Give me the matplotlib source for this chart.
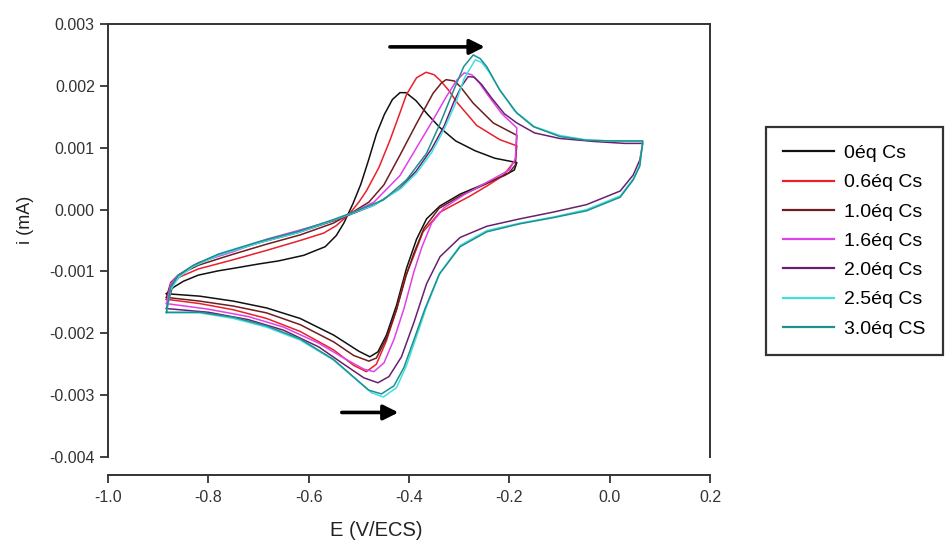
import matplotlib
matplotlib.use("Agg")
import matplotlib.pyplot as plt

plt.rcParams['font.family'] = ['Liberation Sans', 'DejaVu Sans']

SCALE = 1e-3  # values below are given in units of 1e-3 mA

labels = ["0éq Cs", "0.6éq Cs", "1.0éq Cs", "1.6éq Cs", "2.0éq Cs", "2.5éq Cs", "3.0éq CS"]
colors = ["#111111", "#e8202a", "#6e1e1e", "#e040e8", "#6a2070", "#3fe0e0", "#1f8f8f"]

# 0 eq Cs
E_0 = [-0.8835, -0.87, -0.85, -0.82, -0.78, -0.75, -0.70, -0.66, -0.61, -0.567, -0.545, -0.53, -0.512, -0.496,
       -0.481, -0.465, -0.449, -0.433, -0.418, -0.406, -0.386, -0.363, -0.339, -0.307, -0.268, -0.229, -0.185,
       -0.19, -0.21, -0.245, -0.298, -0.338, -0.365, -0.385, -0.405, -0.425, -0.445, -0.462, -0.478, -0.50,
       -0.55, -0.617, -0.684, -0.75, -0.817, -0.8835]
I_0 = [-1.36, -1.26, -1.16, -1.06, -0.99, -0.95, -0.88, -0.83, -0.74, -0.60, -0.42, -0.22, 0.09, 0.41,
       0.79, 1.22, 1.54, 1.78, 1.89, 1.89, 1.76, 1.54, 1.33, 1.11, 0.95, 0.83, 0.76,
       0.64, 0.55, 0.43, 0.25, 0.06, -0.15, -0.48, -0.95, -1.55, -2.03, -2.30, -2.38, -2.29,
       -2.03, -1.76, -1.59, -1.48, -1.40, -1.36]

# 0.6 eq Cs
E_06 = [-0.8835, -0.875, -0.86, -0.82, -0.75, -0.684, -0.617, -0.57, -0.545, -0.52, -0.50, -0.485, -0.46,
        -0.438, -0.42, -0.405, -0.385, -0.366, -0.35, -0.338, -0.32, -0.305, -0.265, -0.219, -0.185,
        -0.188, -0.212, -0.245, -0.278, -0.338, -0.372, -0.392, -0.408, -0.425, -0.445, -0.465, -0.485,
        -0.51, -0.55, -0.617, -0.684, -0.75, -0.817, -0.8835]
I_06 = [-1.45, -1.22, -1.10, -0.96, -0.81, -0.66, -0.50, -0.38, -0.26, -0.08, 0.12, 0.30, 0.68,
        1.12, 1.52, 1.86, 2.13, 2.22, 2.18, 2.09, 1.92, 1.74, 1.36, 1.13, 1.03,
        0.80, 0.55, 0.38, 0.22, -0.04, -0.36, -0.78, -1.10, -1.62, -2.12, -2.50, -2.62,
        -2.52, -2.27, -1.97, -1.76, -1.62, -1.52, -1.45]

# 1.0 eq Cs
E_10 = [-0.8835, -0.875, -0.86, -0.82, -0.75, -0.684, -0.617, -0.551, -0.52, -0.48, -0.45, -0.418, -0.385,
        -0.352, -0.335, -0.326, -0.31, -0.298, -0.272, -0.232, -0.185,
        -0.188, -0.20, -0.245, -0.298, -0.34, -0.37, -0.39, -0.405, -0.425, -0.445, -0.465, -0.48,
        -0.51, -0.55, -0.617, -0.684, -0.75, -0.817, -0.8835]
I_10 = [-1.42, -1.18, -1.06, -0.90, -0.72, -0.56, -0.41, -0.22, -0.08, 0.12, 0.40, 0.88, 1.39,
        1.88, 2.05, 2.10, 2.08, 1.99, 1.72, 1.40, 1.20,
        0.72, 0.60, 0.42, 0.22, 0.02, -0.30, -0.70, -1.05, -1.62, -2.08, -2.40, -2.45,
        -2.36, -2.14, -1.86, -1.67, -1.56, -1.48, -1.42]

# 1.6 eq Cs
E_16 = [-0.8835, -0.875, -0.86, -0.82, -0.75, -0.684, -0.617, -0.551, -0.52, -0.47, -0.418, -0.385, -0.352,
        -0.326, -0.305, -0.29, -0.275, -0.26, -0.24, -0.215, -0.185,
        -0.188, -0.20, -0.245, -0.29, -0.33, -0.355, -0.375, -0.39, -0.41, -0.43, -0.45, -0.47,
        -0.49, -0.53, -0.58, -0.65, -0.72, -0.80, -0.8835]
I_16 = [-1.52, -1.20, -1.06, -0.86, -0.68, -0.48, -0.33, -0.18, -0.08, 0.12, 0.55, 1.00, 1.45,
        1.82, 2.09, 2.21, 2.18, 2.05, 1.82, 1.55, 1.32,
        0.82, 0.64, 0.44, 0.24, 0.03, -0.22, -0.62, -1.00, -1.60, -2.10, -2.48, -2.62,
        -2.58, -2.40, -2.16, -1.90, -1.73, -1.61, -1.52]

# 2.0 eq Cs
E_20 = [-0.8835, -0.87, -0.85, -0.82, -0.78, -0.70, -0.62, -0.55, -0.52, -0.47, -0.42, -0.386, -0.355,
        -0.33, -0.31, -0.295, -0.282, -0.27, -0.255, -0.235, -0.21, -0.185, -0.15, -0.10, -0.03, 0.03, 0.066,
        0.06, 0.047, 0.021, -0.046, -0.112, -0.179, -0.245, -0.298, -0.338, -0.365, -0.39, -0.415, -0.44,
        -0.462, -0.49, -0.53, -0.58, -0.65, -0.72, -0.80, -0.8835]
I_20 = [-1.60, -1.20, -1.02, -0.87, -0.73, -0.54, -0.37, -0.18, -0.09, 0.07, 0.33, 0.62, 0.98,
        1.35, 1.75, 2.00, 2.15, 2.14, 2.02, 1.80, 1.55, 1.40, 1.24, 1.15, 1.10, 1.07, 1.07,
        0.80, 0.56, 0.30, 0.08, -0.04, -0.15, -0.27, -0.45, -0.76, -1.20, -1.82, -2.38, -2.70,
        -2.80, -2.72, -2.50, -2.22, -1.95, -1.78, -1.66, -1.60]

# 2.5 eq Cs
E_25 = [-0.8835, -0.875, -0.86, -0.83, -0.78, -0.70, -0.62, -0.55, -0.52, -0.47, -0.418, -0.386, -0.355,
        -0.33, -0.307, -0.29, -0.268, -0.255, -0.24, -0.22, -0.19, -0.15, -0.10, -0.05, 0.0, 0.066,
        0.06, 0.047, 0.021, -0.046, -0.112, -0.179, -0.245, -0.298, -0.338, -0.365, -0.385, -0.405, -0.425,
        -0.451, -0.475, -0.498, -0.551, -0.617, -0.684, -0.75, -0.817, -0.8835]
I_25 = [-1.67, -1.30, -1.10, -0.92, -0.74, -0.54, -0.37, -0.17, -0.08, 0.07, 0.33, 0.58, 0.92,
        1.30, 1.72, 2.12, 2.42, 2.38, 2.22, 1.95, 1.60, 1.34, 1.20, 1.13, 1.11, 1.10,
        0.72, 0.50, 0.22, 0.00, -0.12, -0.22, -0.34, -0.58, -1.02, -1.57, -2.05, -2.52, -2.88,
        -3.03, -2.96, -2.80, -2.43, -2.11, -1.90, -1.76, -1.67, -1.67]

# 3.0 eq Cs
E_30 = [-0.8835, -0.875, -0.86, -0.83, -0.78, -0.70, -0.62, -0.55, -0.52, -0.451, -0.405, -0.365, -0.338,
        -0.311, -0.291, -0.272, -0.258, -0.245, -0.219, -0.185, -0.152, -0.099, -0.046, 0.0, 0.066,
        0.06, 0.047, 0.021, -0.046, -0.112, -0.179, -0.245, -0.298, -0.34, -0.368, -0.39, -0.41, -0.43,
        -0.455, -0.48, -0.50, -0.551, -0.617, -0.684, -0.75, -0.817, -0.8835]
I_30 = [-1.66, -1.25, -1.06, -0.90, -0.72, -0.52, -0.35, -0.16, -0.07, 0.155, 0.48, 0.91, 1.39,
        1.93, 2.31, 2.50, 2.44, 2.31, 1.93, 1.56, 1.34, 1.18, 1.12, 1.11, 1.11,
        0.70, 0.48, 0.20, -0.02, -0.13, -0.23, -0.36, -0.60, -1.05, -1.60, -2.10, -2.55, -2.85,
        -2.98, -2.92, -2.78, -2.42, -2.09, -1.88, -1.74, -1.66, -1.66]

E_series = [E_0, E_06, E_10, E_16, E_20, E_25, E_30]
I_series = [I_0, I_06, I_10, I_16, I_20, I_25, I_30]

x_ticks = [-1.0, -0.8, -0.6, -0.4, -0.2, 0.0, 0.2]
y_ticks = [-0.004, -0.003, -0.002, -0.001, 0.000, 0.001, 0.002, 0.003]

# arrows (peak shift indicators), in data units (E, i in 1e-3 mA)
arrow_top = ((-0.438, 2.63), (-0.249, 2.63))
arrow_bottom = ((-0.534, -3.28), (-0.421, -3.28))

W, H = 953, 550
fig = plt.figure(figsize=(W / 100, H / 100), dpi=100)
ax = fig.add_axes([108 / W, 1 - 457 / H, (710 - 108) / W, (457 - 24) / H])

for E, I, c, lab in zip(E_series, I_series, colors, labels):
    ax.plot(E, [v * SCALE for v in I], color=c, lw=1.1, label=lab)

for (p0, p1) in (arrow_top, arrow_bottom):
    ax.annotate("", xy=(p1[0], p1[1] * SCALE), xytext=(p0[0], p0[1] * SCALE),
                arrowprops=dict(arrowstyle="-|>,head_length=0.9,head_width=0.45", lw=2.6,
                                color="black", shrinkA=0, shrinkB=0))

ax.set_xlim(-1.0, 0.2)
ax.set_ylim(-0.004, 0.003)
ax.set_xticks(x_ticks)
ax.set_xticklabels([f"{v:.1f}" for v in x_ticks])
ax.set_yticks(y_ticks)
ax.set_yticklabels([f"{v:.3f}" for v in y_ticks])

for s in ax.spines.values():
    s.set_color("#333333")
    s.set_linewidth(1.4)
ax.spines['bottom'].set_position(('outward', 13))
ax.tick_params(direction='out', length=5.5, width=1.3, colors="#333333", labelsize=11.5)
ax.tick_params(axis='x', pad=5)
ax.tick_params(axis='y', pad=4)

fig.text(376 / W, 1 - 531 / H, "E (V/ECS)", ha='center', va='center', fontsize=14.5, color="#222222")
fig.text(26 / W, 1 - 220 / H, "i (mA)", ha='center', va='center', fontsize=13, rotation=90, color="#222222")

handles, labs = ax.get_legend_handles_labels()
leg = fig.legend(handles, labs, loc='upper left', bbox_to_anchor=(766 / W, 1 - 127 / H),
                 frameon=True, fancybox=False, fontsize=14, handlelength=2.6, handletextpad=0.5,
                 labelspacing=0.6, borderpad=0.9, borderaxespad=0)
leg.get_frame().set_edgecolor("black")
leg.get_frame().set_linewidth(1.6)
for line in leg.get_lines():
    line.set_linewidth(1.6)

fig.savefig("out.png", dpi=100)
